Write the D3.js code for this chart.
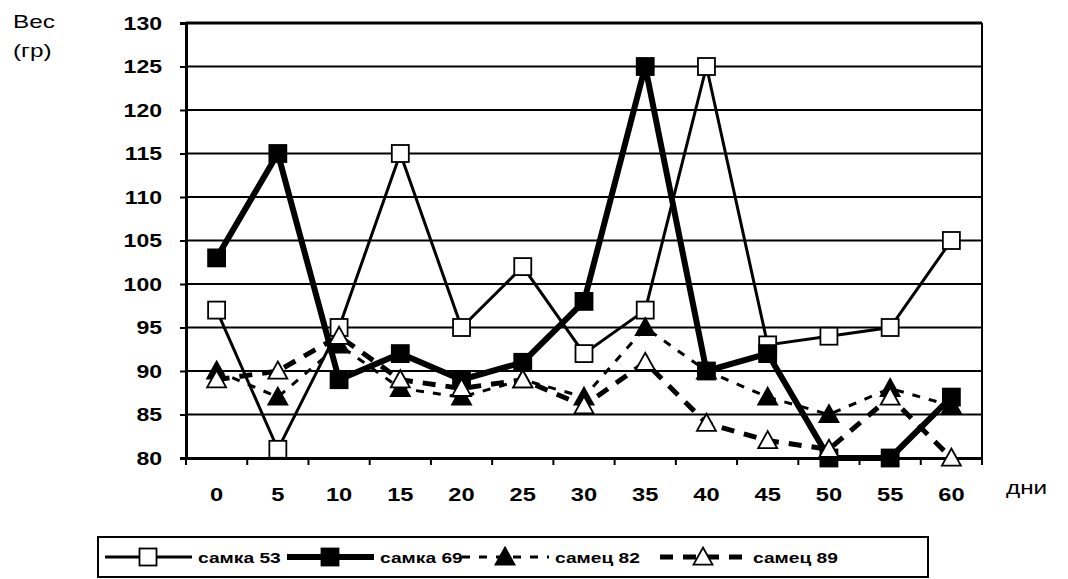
<!DOCTYPE html>
<html><head><meta charset="utf-8">
<script src="https://cdn.jsdelivr.net/npm/d3@7"></script>
<style>body{margin:0;background:#fff}svg{display:block}text{font-family:"Liberation Sans",Arial,sans-serif}</style>
</head><body>
<svg id="c" width="1068" height="579"></svg>
<script>
const days = ["0","5","10","15","20","25","30","35","40","45","50","55","60"];
const female53 = [97,81,95,115,95,102,92,97,125,93,94,95,105];
const female69 = [103,115,89,92,89,91,98,125,90,92,80,80,87];
const male82 = [90,87,93,88,87,89,87,95,90,87,85,88,86];
const male89 = [89,90,94,89,88,89,86,91,84,82,81,87,80];
const yTicks = [80,85,90,95,100,105,110,115,120,125,130];
const seriesNames = ["самка 53","самка 69","самец 82","самец 89"];

const series = [
  {name:seriesNames[0], values:female53, width:3, dash:null, marker:"square", fill:"#fff"},
  {name:seriesNames[1], values:female69, width:6, dash:null, marker:"square", fill:"#000"},
  {name:seriesNames[2], values:male82, width:3, dash:"8,9", marker:"triangle", fill:"#000"},
  {name:seriesNames[3], values:male89, width:5, dash:"13,10", marker:"triangle", fill:"#fff"}
];

const SX = 1.28; // horizontal stretch of text as in the reference
const svg = d3.select("#c");
const L=186,R=982,T=23,B=458;
const x = d3.scaleBand().domain(days).range([L,R]);
const y = d3.scaleLinear().domain([80,130]).range([B,T]);
const FONT = "'Liberation Sans',Arial,sans-serif";

// gridlines
svg.append("g").selectAll("line").data(yTicks).join("line")
  .attr("x1",L).attr("x2",R).attr("y1",d=>y(d)).attr("y2",d=>y(d))
  .attr("stroke","#000").attr("stroke-width",d=>d===130?3:2);
// right border
svg.append("line").attr("x1",R).attr("x2",R).attr("y1",T).attr("y2",B).attr("stroke","#000").attr("stroke-width",2);

// y axis
const yAxis = svg.append("g").attr("transform",`translate(${L},0)`)
  .call(d3.axisLeft(y).tickValues(yTicks).tickSize(6).tickPadding(20));
yAxis.select(".domain").attr("stroke-width",3);
yAxis.selectAll(".tick line").attr("stroke-width",2);
yAxis.selectAll("text").attr("font-size",18).attr("font-weight","bold").attr("fill","#000")
  .attr("font-family",FONT).attr("dy","0.36em")
  .attr("x",-24/SX).attr("transform",`scale(${SX},1)`);

// x axis
const xAxis = svg.append("g").attr("transform",`translate(0,${B})`)
  .call(d3.axisBottom(x).tickSize(0).tickPadding(30));
xAxis.select(".domain").attr("stroke-width",3);
xAxis.selectAll("text").attr("font-size",18.5).attr("font-weight","bold").attr("fill","#000")
  .attr("font-family",FONT).attr("transform",`scale(${SX},1)`);
// ticks at band boundaries
const bounds = days.map(d=>x(d)).concat([R]);
svg.append("g").selectAll("line").data(bounds).join("line")
  .attr("x1",d=>d).attr("x2",d=>d).attr("y1",B).attr("y2",B+7)
  .attr("stroke","#000").attr("stroke-width",2);

function stretchedText(px,py,size,weight,str){
  return svg.append("text").attr("transform",`translate(${px},${py}) scale(${SX},1)`)
    .attr("font-size",size).attr("font-weight",weight).text(str);
}
// axis titles
stretchedText(13,28,19,"normal","Вес");
stretchedText(13,57,19,"normal","(гр)");
stretchedText(1006,494,19,"normal","дни");

const cx = d=>x(d)+x.bandwidth()/2;
const line = d3.line().x(d=>cx(d.k)).y(d=>y(d.v));

function drawMarker(g, type, px, py, fill){
  if(type==="square"){
    g.append("rect").attr("x",px-8.5).attr("y",py-8.5).attr("width",17).attr("height",17)
      .attr("fill",fill).attr("stroke","#000").attr("stroke-width",1.8);
  } else {
    const s=9.5;
    g.append("path").attr("d",`M${px},${py-s}L${px+s},${py+s*0.8}L${px-s},${py+s*0.8}Z`)
      .attr("fill",fill).attr("stroke","#000").attr("stroke-width",1.8);
  }
}

const plot = svg.append("g");
series.forEach(s=>{
  const pts = s.values.map((v,i)=>({k:days[i],v}));
  plot.append("path").datum(pts).attr("d",line).attr("fill","none")
    .attr("stroke","#000").attr("stroke-width",s.width)
    .attr("stroke-dasharray",s.dash).attr("stroke-linejoin","miter");
  pts.forEach(p=>drawMarker(plot,s.marker,cx(p.k),y(p.v),s.fill));
});

// legend
svg.append("rect").attr("x",98).attr("y",537).attr("width",830).attr("height",40)
  .attr("fill","#fff").attr("stroke","#000").attr("stroke-width",2);
const legX = [105,287,462,660];
series.forEach((s,i)=>{
  const g = svg.append("g");
  const ly = 557;
  g.append("line").attr("x1",legX[i]).attr("x2",legX[i]+87).attr("y1",ly).attr("y2",ly)
    .attr("stroke","#000").attr("stroke-width",s.width).attr("stroke-dasharray",s.dash);
  drawMarker(g,s.marker,legX[i]+43,ly,s.fill);
  stretchedText(legX[i]+93,ly+6,15,"bold",s.name);
});
</script>
</body></html>
